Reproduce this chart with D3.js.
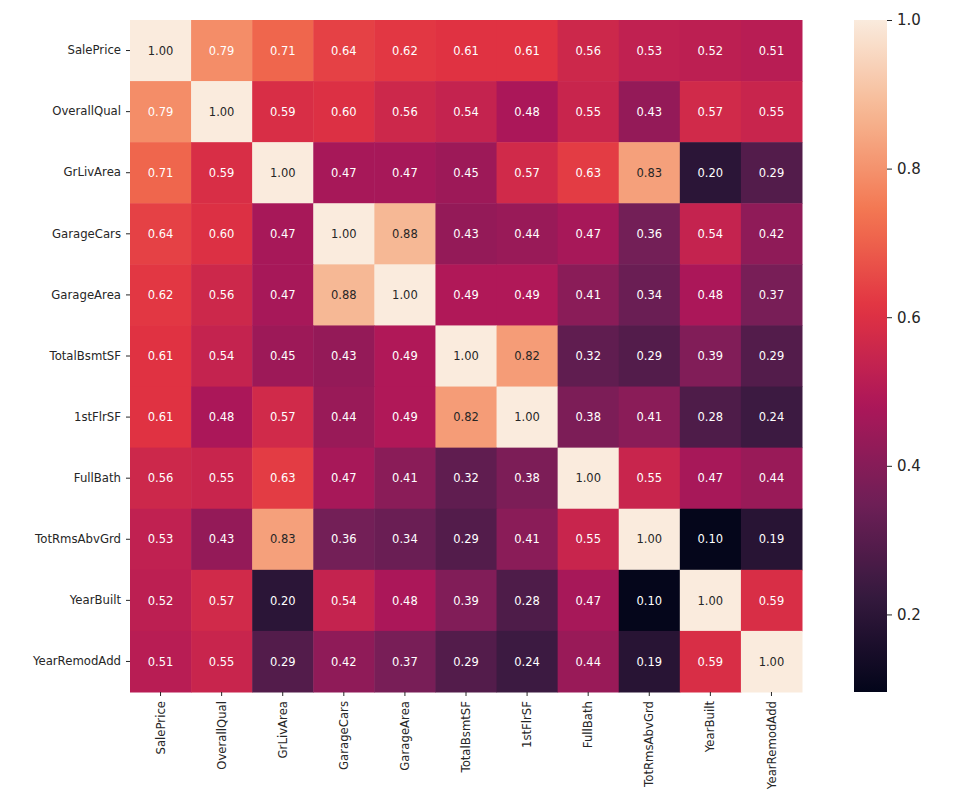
<!DOCTYPE html>
<html><head><meta charset="utf-8">
<script src="https://cdn.jsdelivr.net/npm/d3@7"></script>
<style>body{margin:0;background:#fff}svg{display:block}</style>
</head><body><svg id="c" width="968" height="797"></svg>
<script>
const variables = ["SalePrice","OverallQual","GrLivArea","GarageCars","GarageArea","TotalBsmtSF","1stFlrSF","FullBath","TotRmsAbvGrd","YearBuilt","YearRemodAdd"];
const corrValues = [
  [1.00,0.79,0.71,0.64,0.62,0.61,0.61,0.56,0.53,0.52,0.51],
  [0.79,1.00,0.59,0.60,0.56,0.54,0.48,0.55,0.43,0.57,0.55],
  [0.71,0.59,1.00,0.47,0.47,0.45,0.57,0.63,0.83,0.20,0.29],
  [0.64,0.60,0.47,1.00,0.88,0.43,0.44,0.47,0.36,0.54,0.42],
  [0.62,0.56,0.47,0.88,1.00,0.49,0.49,0.41,0.34,0.48,0.37],
  [0.61,0.54,0.45,0.43,0.49,1.00,0.82,0.32,0.29,0.39,0.29],
  [0.61,0.48,0.57,0.44,0.49,0.82,1.00,0.38,0.41,0.28,0.24],
  [0.56,0.55,0.63,0.47,0.41,0.32,0.38,1.00,0.55,0.47,0.44],
  [0.53,0.43,0.83,0.36,0.34,0.29,0.41,0.55,1.00,0.10,0.19],
  [0.52,0.57,0.20,0.54,0.48,0.39,0.28,0.47,0.10,1.00,0.59],
  [0.51,0.55,0.29,0.42,0.37,0.29,0.24,0.44,0.19,0.59,1.00]
];
const colorbarTicks = [0.2,0.4,0.6,0.8,1.0];
const colorMin = 0.0956;
const colorMax = 1.0;
const rocketStops = ["#03051a","#35193e","#701f57","#ad1759","#e13342","#f37651","#f6b48f","#faebdd"];

const svg = d3.select("#c");
svg.append("rect").attr("width",968).attr("height",797).attr("fill","#fff");
const L=130,R=802,T=20,B=692;
const x = d3.scaleBand().domain(variables).range([L,R]);
const y = d3.scaleBand().domain(variables).range([T,B]);
const interp = d3.piecewise(d3.interpolateRgb, rocketStops);
const color = d3.scaleSequential(interp).domain([colorMin,colorMax]);
const FONT = "DejaVu Sans, sans-serif";

function lum(c){
  const r=d3.rgb(c);
  const f=v=>{v/=255;return v<=0.03928?v/12.92:Math.pow((v+0.055)/1.055,2.4);};
  return 0.2126*f(r.r)+0.7152*f(r.g)+0.0722*f(r.b);
}
const lumThreshold = lum(color(0.805));

const cells=[];
corrValues.forEach((row,i)=>row.forEach((v,j)=>cells.push({r:variables[i],c:variables[j],v})));

const g=svg.append("g");
g.selectAll("rect.cell").data(cells).join("rect").attr("class","cell")
  .attr("x",d=>x(d.c)).attr("y",d=>y(d.r))
  .attr("width",x.bandwidth()+0.5).attr("height",y.bandwidth()+0.5)
  .attr("fill",d=>color(d.v));
g.selectAll("text.ann").data(cells).join("text").attr("class","ann")
  .attr("x",d=>x(d.c)+x.bandwidth()/2).attr("y",d=>y(d.r)+y.bandwidth()/2)
  .attr("dy","0.36em").attr("text-anchor","middle")
  .style("font-family",FONT).style("font-size","11.5px")
  .attr("fill",d=>lum(color(d.v))>lumThreshold?"#262626":"#ffffff")
  .text(d=>d3.format(".2f")(d.v));

const ya=svg.append("g").attr("transform",`translate(${L},0)`)
  .call(d3.axisLeft(y).tickSize(4).tickPadding(5));
ya.select(".domain").remove();
ya.selectAll("line").attr("stroke","#262626");
ya.selectAll("text").style("font-family",FONT).style("font-size","11.7px").attr("fill","#262626");

const xa=svg.append("g").attr("transform",`translate(0,${B})`)
  .call(d3.axisBottom(x).tickSize(4).tickPadding(5));
xa.select(".domain").remove();
xa.selectAll("line").attr("stroke","#262626");
xa.selectAll("text").style("font-family",FONT).style("font-size","11.7px").attr("fill","#262626")
  .attr("transform","rotate(-90)").attr("text-anchor","end")
  .attr("x",-9).attr("y",0).attr("dy","0.35em");

// colorbar
const cbX=854,cbW=33;
const cy=d3.scaleLinear().domain([colorMin,colorMax]).range([B,T]);
const defs=svg.append("defs");
const grad=defs.append("linearGradient").attr("id","cbg").attr("x1",0).attr("x2",0).attr("y1",1).attr("y2",0);
d3.range(0,1.0001,0.02).forEach(t=>{
  grad.append("stop").attr("offset",t).attr("stop-color",interp(t));
});
svg.append("rect").attr("x",cbX).attr("y",T).attr("width",cbW).attr("height",B-T).attr("fill","url(#cbg)");
const ca=svg.append("g").attr("transform",`translate(${cbX+cbW},0)`)
  .call(d3.axisRight(cy).tickValues(colorbarTicks).tickFormat(d3.format(".1f")).tickSize(5).tickPadding(5));
ca.select(".domain").remove();
ca.selectAll("line").attr("stroke","#262626");
ca.selectAll("text").style("font-family",FONT).style("font-size","15px").attr("fill","#262626");
</script></body></html>
